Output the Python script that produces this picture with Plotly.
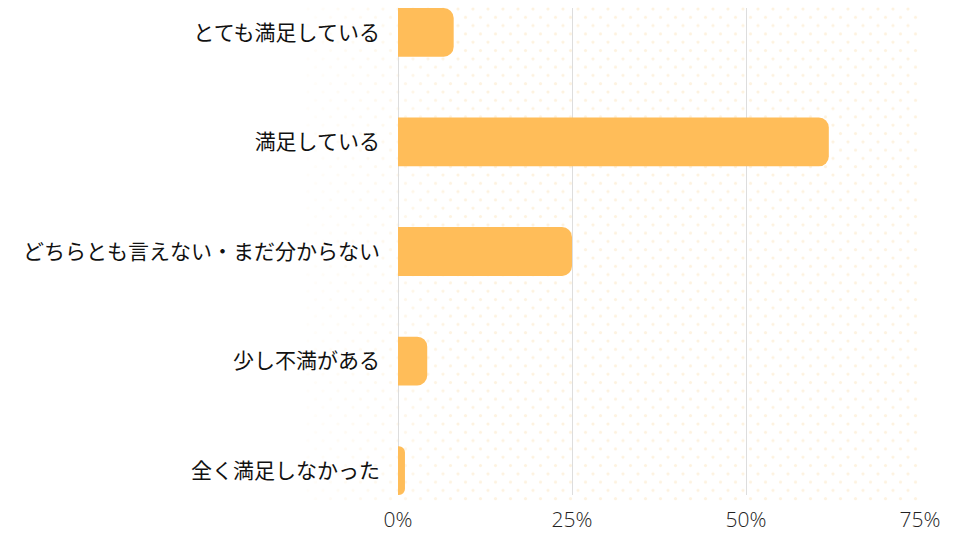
import plotly.graph_objects as go
import base64

categories = ["とても満足している", "満足している", "どちらとも言えない・まだ分からない", "少し不満がある", "全く満足しなかった"]
values = [8.0, 61.9, 25.0, 4.2, 1.0]
tick_vals = [0, 25, 50, 75]
tick_text = ["0%", "25%", "50%", "75%"]

BAR_COLOR = "#FFBD59"
FONT = "Noto Sans CJK JP"

# decorative dot pattern background
svg = """<svg xmlns='http://www.w3.org/2000/svg' width='615' height='500'>
<defs>
<pattern id='p' width='15' height='16.6' patternUnits='userSpaceOnUse'>
<circle cx='3' cy='4' r='1.6' fill='#FDF1DC'/>
<circle cx='10.5' cy='12.3' r='1.6' fill='#FDF1DC'/>
</pattern>
<linearGradient id='g' x1='0' x2='1' y1='0' y2='0'>
<stop offset='0' stop-color='white' stop-opacity='0.15'/>
<stop offset='0.25' stop-color='white' stop-opacity='0.9'/>
<stop offset='1' stop-color='white' stop-opacity='0.9'/>
</linearGradient>
<mask id='m'><rect width='615' height='500' fill='url(#g)'/></mask>
</defs>
<rect width='615' height='500' fill='url(#p)' mask='url(#m)'/>
</svg>"""
src = "data:image/svg+xml;base64," + base64.b64encode(svg.encode()).decode()

fig = go.Figure(go.Bar(
    x=values,
    y=categories,
    orientation="h",
    marker=dict(color=BAR_COLOR, line=dict(width=0)),
    width=0.445,
    hoverinfo="skip",
))

L, R, T, B = 398, 40, 8, 45
pw = 960 - L - R
ph = 540 - T - B

fig.update_layout(
    width=960, height=540,
    margin=dict(l=L, r=R, t=T, b=B, pad=0),
    paper_bgcolor="white",
    plot_bgcolor="rgba(0,0,0,0)",
    barcornerradius=10,
    showlegend=False,
    font=dict(family=FONT, color="#111111"),
    xaxis=dict(
        range=[0, 75],
        tickvals=tick_vals,
        ticktext=tick_text,
        showgrid=True,
        gridcolor="#DDDDDD",
        gridwidth=1,
        zeroline=True,
        zerolinecolor="#DDDDDD",
        zerolinewidth=1,
        showline=False,
        ticks="",
        tickfont=dict(size=21, family="Open Sans", color="#222222", weight=300),
        ticklabelstandoff=10,
    ),
    yaxis=dict(
        categoryorder="array",
        categoryarray=categories,
        autorange=False,
        range=[4.2227, -0.2227],
        showgrid=False,
        zeroline=False,
        showline=False,
        ticks="",
        tickfont=dict(size=21, family=FONT, color="#111111"),
        ticklabelstandoff=17,
    ),
    images=[dict(
        source=src,
        xref="paper", yref="paper",
        x=(305 - L) / pw, y=(540 - B - 5) / ph,
        sizex=615 / pw, sizey=500 / ph,
        xanchor="left", yanchor="top",
        sizing="stretch",
        layer="below",
    )],
)

fig.write_html("out.html")
